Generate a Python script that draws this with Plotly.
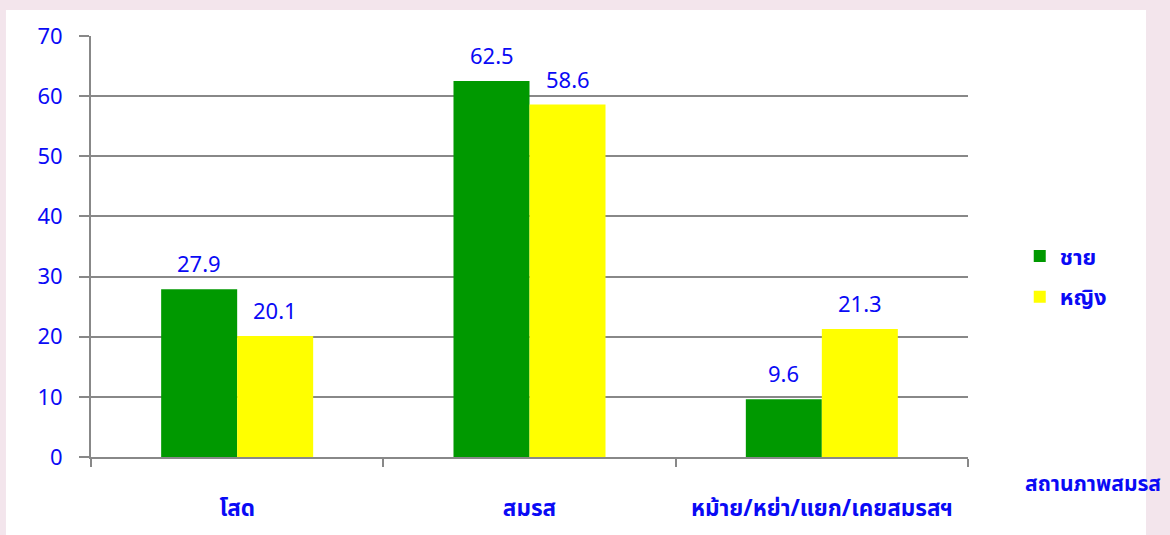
import plotly.graph_objects as go

categories = ["โสด", "สมรส", "หม้าย/หย่า/แยก/เคยสมรสฯ"]
male = [27.9, 62.5, 9.6]
female = [20.1, 58.6, 21.3]
series_names = ["ชาย", "หญิง"]
y_ticks = [0, 10, 20, 30, 40, 50, 60, 70]
axis_title = "สถานภาพสมรส"

BLUE = "#0a0af5"
FONT = "'Noto Sans', 'Noto Sans Thai', sans-serif"
PINK = "#F3E5EC"

fig = go.Figure()
fig.add_trace(go.Bar(x=categories, y=male, name=series_names[0], marker_color="#009900",
                     marker_line_width=0, legendgroup="a"))
fig.add_trace(go.Bar(x=categories, y=female, name=series_names[1], marker_color="#FFFF00",
                     marker_line_width=0, legendgroup="b"))

for vals, dx in ((male, -38), (female, 38)):
    for c, v in zip(categories, vals):
        fig.add_annotation(x=c, y=v, text=f"{v}", showarrow=False, xshift=dx, yshift=26,
                           font=dict(size=22, color=BLUE, family=FONT))

fig.add_annotation(xref="paper", yref="paper", x=1.063, y=-0.062, xanchor="left", yanchor="middle",
                   text=f"<b>{axis_title}</b>", showarrow=False,
                   font=dict(size=21, color=BLUE, family=FONT))

fig.add_shape(type="rect", xref="paper", yref="paper", x0=-0.097, x1=1.203, y0=-0.2, y1=1.0615,
              fillcolor="white", line_width=0, layer="below")

fig.update_layout(
    width=1170, height=535,
    margin=dict(l=91, r=202, t=36, b=76),
    paper_bgcolor=PINK,
    plot_bgcolor="rgba(0,0,0,0)",
    barmode="group", bargap=0.48, bargroupgap=0,
    font=dict(family=FONT, color=BLUE, size=22),
    legend=dict(x=1.059, y=0.428, xanchor="left", yanchor="middle", tracegroupgap=9,
                font=dict(size=22, color=BLUE, family=FONT, weight="bold"), bgcolor="rgba(0,0,0,0)"),
    showlegend=True,
)
fig.update_xaxes(showline=True, linecolor="#888888", linewidth=2, ticks="outside", tickson="boundaries",
                 ticklen=8, tickwidth=2, tickcolor="#888888", showgrid=False,
                 ticklabelstandoff=30, tickfont=dict(size=22.5, color=BLUE, family=FONT, weight="bold"))
fig.update_yaxes(range=[0, 70], tickvals=y_ticks, showline=True, linecolor="#888888", linewidth=2,
                 ticks="outside", ticklen=10, tickwidth=2, tickcolor="#888888",
                 showgrid=True, gridcolor="#888888", gridwidth=2, zeroline=False,
                 tickfont=dict(size=22, color=BLUE, family=FONT), ticklabelstandoff=12)

fig.write_html("out.html", config={"displayModeBar": False},
               post_script=f"document.body.style.margin='0';document.body.style.background='{PINK}';")
